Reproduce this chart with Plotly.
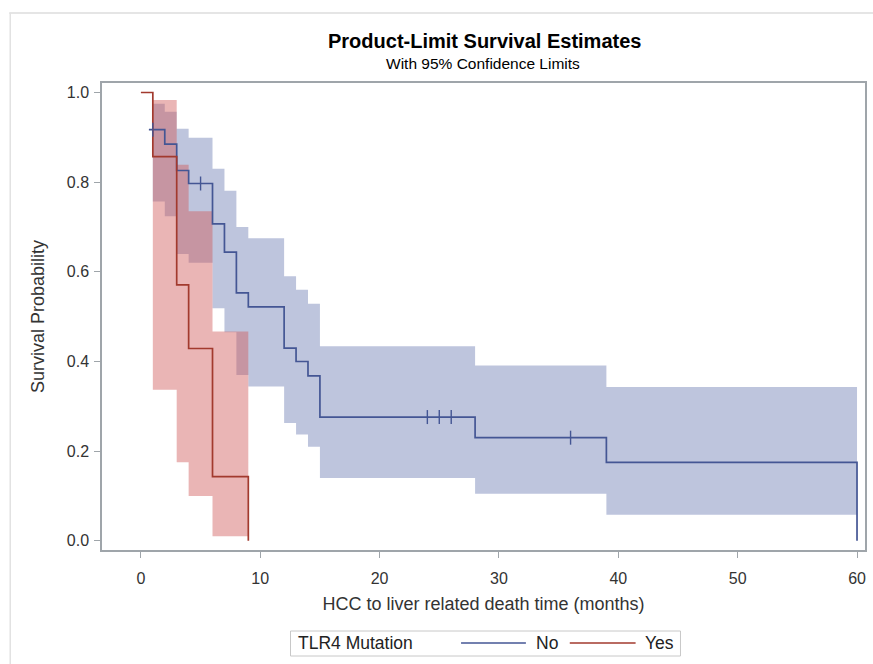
import plotly.graph_objects as go

# ---------------- data ----------------
groups = ["No", "Yes"]
group_title = "TLR4 Mutation"

# Kaplan-Meier step estimates
no_time = [0.67, 2, 3, 4, 6, 7, 8, 9, 12, 13, 14, 15, 28, 39, 60]
no_surv = [0.917, 0.885, 0.826, 0.797, 0.707, 0.644, 0.553, 0.522, 0.430, 0.400, 0.368, 0.276, 0.230, 0.175, 0.0]

yes_time = [0, 1, 3, 4, 6, 9]
yes_surv = [1.0, 0.857, 0.571, 0.429, 0.143, 0.0]

# 95% confidence limits (step bands)
no_ci_time = [1, 2, 3, 4, 6, 7, 8, 9, 12, 13, 14, 15, 28, 39]
no_ci_end = 60
no_ci_upper = [0.975, 0.957, 0.919, 0.899, 0.830, 0.781, 0.700, 0.675, 0.590, 0.560, 0.529, 0.434, 0.391, 0.343]
no_ci_lower = [0.757, 0.724, 0.640, 0.620, 0.519, 0.465, 0.370, 0.344, 0.263, 0.237, 0.210, 0.140, 0.105, 0.058]

yes_ci_time = [1, 3, 4, 6]
yes_ci_end = 9
yes_ci_upper = [0.983, 0.839, 0.735, 0.467]
yes_ci_lower = [0.337, 0.175, 0.100, 0.010]

# censored observations (group "No")
no_censor_time = [1, 5, 24, 25, 26, 36]

x_ticks = [0, 10, 20, 30, 40, 50, 60]
y_ticks = [0.0, 0.2, 0.4, 0.6, 0.8, 1.0]

title_text = "Product-Limit Survival Estimates"
subtitle_text = "With 95% Confidence Limits"
x_title = "HCC to liver related death time (months)"
y_title = "Survival Probability"

# ---------------- styling ----------------
line_colors = {"No": "#445694", "Yes": "#A23A2E"}
band_colors = {"No": "rgba(111,126,179,0.45)", "Yes": "rgba(208,91,91,0.45)"}
FONT = "Arial, 'Liberation Sans', Helvetica, sans-serif"
frame_color = "#9fa5aa"


def step_value(times, values, t):
    v = values[0]
    for ti, vi in zip(times, values):
        if ti <= t:
            v = vi
    return v


fig = go.Figure()

bands = {
    "No": (no_ci_time, no_ci_end, no_ci_lower, no_ci_upper),
    "Yes": (yes_ci_time, yes_ci_end, yes_ci_lower, yes_ci_upper),
}
for g in groups:
    t, end, lo, up = bands[g]
    xs = list(t) + [end]
    fig.add_trace(go.Scatter(x=xs, y=list(lo) + [lo[-1]], mode="lines",
                             line=dict(width=0, shape="hv"), hoverinfo="skip",
                             showlegend=False))
    fig.add_trace(go.Scatter(x=xs, y=list(up) + [up[-1]], mode="lines",
                             line=dict(width=0, shape="hv"), fill="tonexty",
                             fillcolor=band_colors[g], hoverinfo="skip",
                             showlegend=False))

curves = {"No": (no_time, no_surv), "Yes": (yes_time, yes_surv)}
for g in groups:
    t, s = curves[g]
    fig.add_trace(go.Scatter(x=t, y=s, mode="lines", name=g,
                             line=dict(color=line_colors[g], width=1.7, shape="hv"),
                             showlegend=False))

cens_y = [step_value(no_time, no_surv, t) for t in no_censor_time]
fig.add_trace(go.Scatter(x=no_censor_time, y=cens_y, mode="markers",
                         marker=dict(symbol="line-ns", size=10,
                                     line=dict(color=line_colors["No"], width=1.4)),
                         showlegend=False))

# ---------------- layout (pixel positions measured on the reference page) ----------------
W, H = 873, 664
L, R, T, B = 102, W - 867, 83, H - 550
pw, ph = W - L - R, H - T - B


def px_x(px):
    return (px - L) / pw


def px_y(py):
    return (H - B - py) / ph


annotations = [
    dict(text="<b>" + title_text + "</b>", x=px_x(486), y=px_y(41), xref="paper", yref="paper",
         showarrow=False, font=dict(size=20, color="black", family=FONT),
         xanchor="center", yanchor="middle"),
    dict(text=subtitle_text, x=px_x(484), y=px_y(64), xref="paper", yref="paper",
         showarrow=False, font=dict(size=15.5, color="black", family=FONT),
         xanchor="center", yanchor="middle"),
    dict(text=group_title, x=px_x(297), y=px_y(643), xref="paper", yref="paper",
         showarrow=False, font=dict(size=17.5, color="#222", family=FONT),
         xanchor="left", yanchor="middle"),
    dict(text=groups[0], x=px_x(535), y=px_y(643), xref="paper", yref="paper",
         showarrow=False, font=dict(size=17.5, color="#222", family=FONT),
         xanchor="left", yanchor="middle"),
    dict(text=groups[1], x=px_x(644), y=px_y(643), xref="paper", yref="paper",
         showarrow=False, font=dict(size=17.5, color="#222", family=FONT),
         xanchor="left", yanchor="middle"),
]

shapes = [
    # outer image border (top & left)
    dict(type="line", xref="paper", yref="paper", x0=px_x(9), x1=px_x(880),
         y0=px_y(13), y1=px_y(13), line=dict(color="#dcdcdc", width=1.5)),
    dict(type="line", xref="paper", yref="paper", x0=px_x(10), x1=px_x(10),
         y0=px_y(13), y1=px_y(680), line=dict(color="#e2e2e2", width=1.5)),
    # legend box
    dict(type="rect", xref="paper", yref="paper", x0=px_x(291), x1=px_x(682),
         y0=px_y(656), y1=px_y(631), line=dict(color="#c8c8c8", width=1)),
    dict(type="line", xref="paper", yref="paper", x0=px_x(462), x1=px_x(527),
         y0=px_y(643), y1=px_y(643), line=dict(color=line_colors[groups[0]], width=1.5)),
    dict(type="line", xref="paper", yref="paper", x0=px_x(571), x1=px_x(637),
         y0=px_y(643), y1=px_y(643), line=dict(color=line_colors[groups[1]], width=1.5)),
]

# axis ranges from the measured pixel positions of 0/60 and 0.0/1.0
x0_px, x60_px = 141, 859
upx = (x60_px - x0_px) / 60.0
x_range = [-(x0_px - L) / upx, 60 + (W - R - x60_px) / upx]
y1_px, y0_px = 92.5, 540.8
upy = (y0_px - y1_px)
y_range = [-(H - B - y0_px) / upy, 1 + (y1_px - T) / upy]

fig.update_layout(
    width=W, height=H,
    margin=dict(l=L, r=R, t=T, b=B),
    paper_bgcolor="white", plot_bgcolor="white",
    font=dict(family=FONT, color="#333"),
    annotations=annotations, shapes=shapes,
    showlegend=False,
    xaxis=dict(range=x_range, tickvals=x_ticks, showgrid=False, zeroline=False,
               showline=True, mirror=True, linecolor=frame_color, linewidth=1.5,
               ticks="outside", ticklen=6, tickcolor=frame_color, tickwidth=1,
               ticklabelstandoff=7,
               tickfont=dict(size=16, color="#333"),
               title=dict(text=x_title, font=dict(size=18, color="#333"), standoff=11)),
    yaxis=dict(range=y_range, tickvals=y_ticks, tickformat=".1f", showgrid=False,
               zeroline=False, showline=True, mirror=True, linecolor=frame_color,
               linewidth=1.5, ticks="outside", ticklen=6, tickcolor=frame_color,
               tickwidth=1, ticklabelstandoff=2, tickfont=dict(size=16, color="#333"),
               title=dict(text=y_title, font=dict(size=18, color="#333"), standoff=17)),
)

# remove the default page margin / scrollbars so the figure sits at the page origin
fig.write_html(
    "out.html",
    config={"displayModeBar": False},
    post_script=("document.documentElement.style.overflow='hidden';"
                 "document.body.style.margin='0px';"
                 "document.body.style.overflow='hidden';"),
)
